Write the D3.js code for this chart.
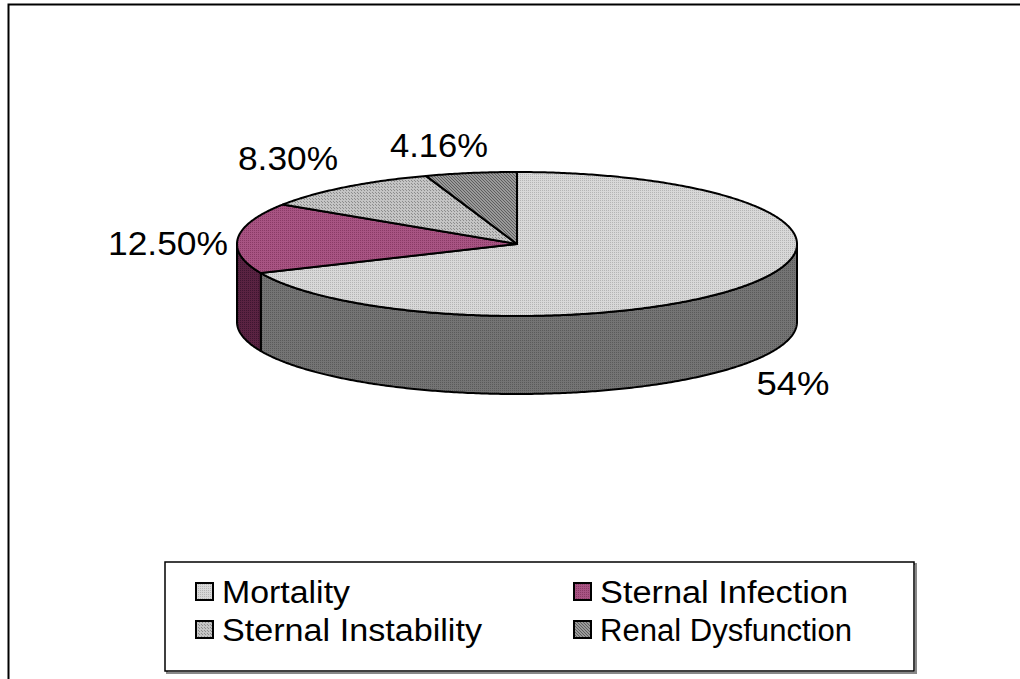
<!DOCTYPE html>
<html>
<head>
<meta charset="utf-8">
<script src="https://cdn.jsdelivr.net/npm/d3@7"></script>
<style>
  html, body { margin: 0; padding: 0; background: #fff; }
  svg { display: block; font-family: Arial, "Liberation Sans", sans-serif; }
</style>
</head>
<body>
<svg id="chart" width="1020" height="679"></svg>
<script>
// ---- data ----
const categories = ["Mortality", "Sternal Infection", "Sternal Instability", "Renal Dysfunction"];
const values = [54, 12.5, 8.3, 4.16];
const valueLabels = ["54%", "12.50%", "8.30%", "4.16%"];

// ---- styling / layout (not data) ----
const topFill = ["url(#pMort)", "url(#pInf)", "url(#pInst)", "url(#pRen)"];
const sideFill = ["url(#pMortSide)", "url(#pInfSide)", "url(#pInstSide)", "url(#pRenSide)"];
const legendFill = topFill;
const labelCenters = [[793, 383], [168, 243], [288, 158], [439, 145]];
const labelWidths = [73, 120, 100, 98];
const legendTextWidths = [128, 248, 260, 252];

const svg = d3.select("#chart");
const defs = svg.append("defs");

function makePattern(id, base, dot, size, dots) {
  const p = defs.append("pattern").attr("id", id).attr("patternUnits", "userSpaceOnUse")
    .attr("width", size).attr("height", size);
  p.append("rect").attr("width", size).attr("height", size).attr("fill", base);
  dots.forEach(([x, y]) => p.append("rect").attr("x", x).attr("y", y).attr("width", 1).attr("height", 1).attr("fill", dot));
}
makePattern("pMort", "#d8d8d8", "#b4b4b4", 2, [[0, 0]]);
makePattern("pMortSide", "#747474", "#5a5a5a", 2, [[0, 0]]);
makePattern("pInf", "#a85483", "#8a3a66", 2, [[0, 0]]);
makePattern("pInfSide", "#5a2342", "#3e1530", 2, [[0, 0]]);
makePattern("pInst", "#c4c4c4", "#8c8c8c", 3, [[0, 0], [1, 1]]);
makePattern("pInstSide", "#707070", "#505050", 3, [[0, 0], [1, 1]]);
makePattern("pRen", "#9a9a9a", "#5e5e5e", 3, [[0, 0], [1, 1], [2, 2]]);
makePattern("pRenSide", "#555555", "#333333", 3, [[0, 0], [1, 1], [2, 2]]);

// outer chart frame
svg.append("rect").attr("x", 8.5).attr("y", 4.5).attr("width", 1040).attr("height", 700)
  .attr("fill", "#fff").attr("stroke", "#000").attr("stroke-width", 2);

// ---- 3D pie ----
const cx = 517, cy = 244, rx = 280, ry = 72, depth = 78;
const P = (a, dy = 0) => [cx + rx * Math.sin(a), cy - ry * Math.cos(a) + dy];

const arcs = d3.pie().sort(null).value(d => d).startAngle(0).endAngle(2 * Math.PI)(values);

function arcPoints(a0, a1, dy) {
  const n = Math.max(2, Math.ceil(Math.abs(a1 - a0) / 0.01));
  return d3.range(n + 1).map(i => P(a0 + (a1 - a0) * i / n, dy));
}
const line = d3.line().curve(d3.curveLinear);

// side faces (front half: angle in [PI/2, 3PI/2])
const g = svg.append("g");
arcs.forEach((d, i) => {
  const s = Math.max(d.startAngle, Math.PI / 2);
  const e = Math.min(d.endAngle, 3 * Math.PI / 2);
  if (s >= e) return;
  const pts = arcPoints(s, e, 0).concat(arcPoints(e, s, depth));
  g.append("path").attr("d", line(pts) + "Z")
    .attr("fill", sideFill[i]).attr("stroke", "#000").attr("stroke-width", 2).attr("stroke-linejoin", "round");
});

// top faces
arcs.forEach((d, i) => {
  const pts = [[cx, cy]].concat(arcPoints(d.startAngle, d.endAngle, 0));
  g.append("path").attr("d", line(pts) + "Z")
    .attr("fill", topFill[i]).attr("stroke", "#000").attr("stroke-width", 2).attr("stroke-linejoin", "round");
});

// data labels
arcs.forEach((d, i) => {
  const [x, y] = labelCenters[i];
  svg.append("text").attr("x", x).attr("y", y + 12)
    .attr("text-anchor", "middle").attr("font-size", 33).attr("fill", "#000")
    .attr("textLength", labelWidths[i]).attr("lengthAdjust", "spacingAndGlyphs")
    .text(valueLabels[i]);
});

// ---- legend ----
const lx = 165, ly = 562, lw = 749, lh = 109;
svg.append("rect").attr("x", lx + 2).attr("y", ly + 2).attr("width", lw).attr("height", lh)
  .attr("fill", "none").attr("stroke", "#888").attr("stroke-width", 2);
svg.append("rect").attr("x", lx).attr("y", ly).attr("width", lw).attr("height", lh)
  .attr("fill", "#fff").attr("stroke", "#000").attr("stroke-width", 1.5);

const colX = [196, 574];
const rowY = [592, 630];
categories.forEach((c, i) => {
  const col = i % 2, row = Math.floor(i / 2);
  const x = colX[col], y = rowY[row];
  svg.append("rect").attr("x", x).attr("y", y - 9).attr("width", 17).attr("height", 17)
    .attr("fill", legendFill[i]).attr("stroke", "#000").attr("stroke-width", 2);
  svg.append("text").attr("x", x + 26).attr("y", y + 11)
    .attr("font-size", 31).attr("fill", "#000")
    .attr("textLength", legendTextWidths[i]).attr("lengthAdjust", "spacingAndGlyphs")
    .text(c);
});
</script>
</body>
</html>
